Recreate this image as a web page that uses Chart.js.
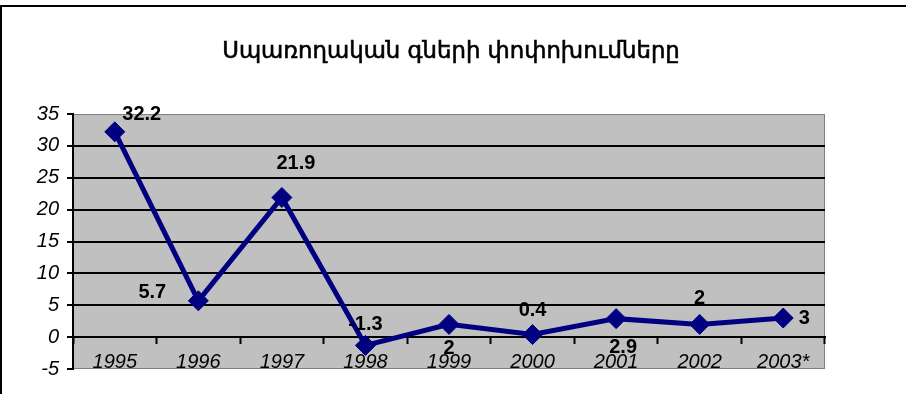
<!DOCTYPE html>
<html><head><meta charset="utf-8">
<script src="https://cdn.jsdelivr.net/npm/chart.js@4/dist/chart.umd.min.js"></script>
<style>html,body{margin:0;padding:0;background:#fff;overflow:hidden}</style>
</head><body>
<canvas id="c" width="906" height="394"></canvas>
<script>
const chartTitle = 'Սպառողական գների փոփոխումները';
const categories = ['1995', '1996', '1997', '1998', '1999', '2000', '2001', '2002', '2003*'];
const values = [32.2, 5.7, 21.9, -1.3, 2, 0.4, 2.9, 2, 3];
const valueLabels = ['32.2', '5.7', '21.9', '-1.3', '2', '0.4', '2.9', '2', '3'];
const yMin = -5, yMax = 35, yStep = 5;
// label placement offsets (style, not data)
const labelOffsets = [[27,-17],[-46,-8],[14,-34],[0,-21],[0,24],[0,-24],[7,29],[0,-26],[21,0]];

const FAM = '"Liberation Sans", Arial, sans-serif';
const NAVY = '#000080';

const deco = {
  id: 'deco',
  beforeDraw(chart) {
    const {ctx, chartArea: a} = chart;
    ctx.save();
    ctx.fillStyle = '#fff';
    ctx.fillRect(0, 0, chart.width, chart.height);
    ctx.fillStyle = '#c0c0c0';
    ctx.fillRect(a.left, a.top, a.right - a.left, a.bottom - a.top);
    ctx.strokeStyle = '#808080';
    ctx.lineWidth = 1;
    ctx.strokeRect(a.left + 0.5, a.top + 0.5, a.right - a.left - 1, a.bottom - a.top - 1);
    // outer frame (left and top visible)
    ctx.strokeStyle = '#000';
    ctx.lineWidth = 2;
    ctx.beginPath();
    ctx.moveTo(1, chart.height + 5);
    ctx.lineTo(1, 6);
    ctx.lineTo(chart.width + 5, 6);
    ctx.stroke();
    // title
    let size = 22;
    ctx.font = size + 'px "DejaVu Sans", "Noto Sans", sans-serif';
    const w = ctx.measureText(chartTitle).width;
    size = size * 458 / w;
    ctx.font = size.toFixed(1) + 'px "DejaVu Sans", "Noto Sans", sans-serif';
    ctx.fillStyle = '#000';
    ctx.strokeStyle = '#000';
    ctx.lineWidth = 0.6;
    ctx.textAlign = 'center';
    ctx.textBaseline = 'alphabetic';
    ctx.fillText(chartTitle, 451, 58);
    ctx.strokeText(chartTitle, 451, 58);
    ctx.restore();
  },
  afterDatasetsDraw(chart) {
    const {ctx} = chart;
    const meta = chart.getDatasetMeta(0);
    ctx.save();
    ctx.font = 'bold 20px ' + FAM;
    ctx.fillStyle = '#000';
    ctx.textAlign = 'center';
    ctx.textBaseline = 'middle';
    meta.data.forEach((pt, i) => {
      const o = labelOffsets[i];
      ctx.fillText(valueLabels[i], pt.x + o[0], pt.y + o[1]);
    });
    ctx.restore();
  }
};

new Chart(document.getElementById('c'), {
  type: 'line',
  data: {
    labels: categories,
    datasets: [{
      data: values,
      borderColor: NAVY,
      backgroundColor: NAVY,
      borderWidth: 5,
      pointStyle: 'rectRot',
      pointRadius: 10,
      pointBorderWidth: 1,
      pointBackgroundColor: NAVY,
      pointBorderColor: NAVY,
      tension: 0
    }]
  },
  options: {
    responsive: false,
    animation: false,
    layout: {padding: {left: 0, right: 81, top: 114, bottom: 25}},
    plugins: {legend: {display: false}, title: {display: false}, tooltip: {enabled: false}},
    scales: {
      x: {
        position: {y: 0},
        offset: true,
        grid: {offset: true, drawOnChartArea: false, drawTicks: true, tickLength: 6, tickColor: '#000', tickWidth: 2},
        border: {color: '#000', width: 2},
        ticks: {font: {family: FAM, size: 20, style: 'italic'}, color: '#000', padding: 7, maxRotation: 0, autoSkip: false}
      },
      y: {
        min: yMin, max: yMax,
        ticks: {stepSize: yStep, font: {family: FAM, size: 20, style: 'italic'}, color: '#000', padding: 8},
        grid: {
          color: (c) => (c.tick && c.tick.value >= 0 && c.tick.value <= 30) ? '#000' : 'rgba(0,0,0,0)',
          lineWidth: 2, drawTicks: true, tickLength: 6, tickColor: '#000', tickWidth: 2
        },
        border: {color: '#000', width: 2},
        afterFit(s) { s.width = 73; }
      }
    }
  },
  plugins: [deco]
});
</script>
</body></html>
